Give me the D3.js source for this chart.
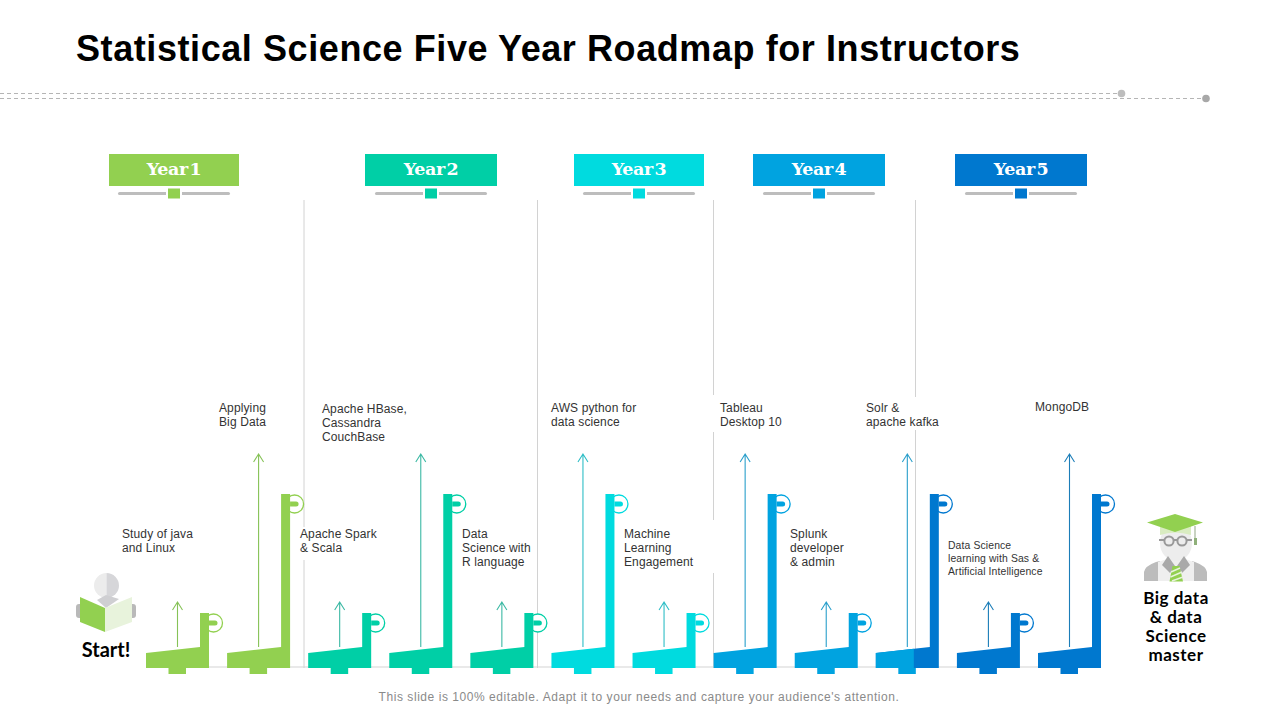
<!DOCTYPE html>
<html><head><meta charset="utf-8">
<script src="https://cdnjs.cloudflare.com/ajax/libs/d3/7.8.5/d3.min.js"></script>
<style>html,body{margin:0;padding:0;background:#fff}svg{display:block}text{font-family:"Liberation Sans",Arial,sans-serif}</style>
</head><body><svg id="c" width="1280" height="720"></svg>
<script>
// ---- data ----
const titleText = "Statistical Science Five Year Roadmap for Instructors";
const footerText = "This slide is 100% editable. Adapt it to your needs and capture your audience's attention.";
const years = ["Year 1","Year 2","Year 3","Year 4","Year 5"];
const stepIndex = [0,1,2,3,4,5,6,7,8,9,10,11];
const poleValues  = [55,174,55,174,55,174,55,174,55,174,55,174];
const arrowValues = [66,214,66,214,66,214,66,214,66,214,66,214];
const stepLabels = [
 ["Study of java","and Linux"],["Applying","Big Data"],
 ["Apache Spark","& Scala"],["Apache HBase,","Cassandra","CouchBase"],
 ["Data","Science with","R language"],["AWS python for","data science"],
 ["Machine","Learning","Engagement"],["Tableau","Desktop 10"],
 ["Splunk","developer","& admin"],["Solr &","apache kafka"],
 ["Data Science","learning with Sas &","Artificial Intelligence"],["MongoDB"]];
const startLabel = "Start!";
const endLabel = ["Big data","& data","Science","master"];

// ---- styles and layout ----
const yearColors = ["#92D050","#00CFA6","#00DBDF","#00A3E0","#0078CF"];
const baseYear = [0,0,1,1,1,2,2,3,3,3,4,4];
const poleYear = [0,0,1,1,1,2,2,3,3,4,4,4];
const arrowColors = ["#86C257","#3CB9A4","#2FBEC6","#2A9FCB","#1B7DB8"];
const headerBox = [[109,239],[365,497],[574,704],[753,885],[955,1087]];
const separators = [[304,[[200,527],[560,668]]],[537.5,[[200,668]]],[713.5,[[200,395],[432,520],[573,668]]],[915.5,[[200,397],[430,668]]]];
const labelX = [122,219,300,322,462,551,624,720,790,866,948,1035];
const labelY = [534,408,534,409,534,408,534,408,534,408,545,407];
const labelGap = [14,14,14,14,14,14,14,14,14,14,13,14];
const labelSize = [12,12,12,12,12,12,12,12,12,12,10.4,12];

const svg = d3.select("#c");
const x = d3.scaleLinear().domain([0,11]).range([146,1038]);
const y = d3.scaleLinear().domain([0,214]).range([668,454]);
const W = 63, POLE = 9, SLOPE_L = 15, SLOPE_R = 21, ARROW_DX = 31.5;

// title
svg.append("text").attr("x",76).attr("y",61).attr("font-size",36).attr("font-weight",700).attr("fill","#000").attr("letter-spacing",0.58).text(titleText);
// dashed rules
const rule = svg.append("g").attr("stroke","#b5b5b5").attr("stroke-width",1).attr("stroke-dasharray","4 3");
rule.append("line").attr("x1",0).attr("x2",1121).attr("y1",93.5).attr("y2",93.5);
rule.append("line").attr("x1",0).attr("x2",1206).attr("y1",98.5).attr("y2",98.5);
svg.append("circle").attr("cx",1121.5).attr("cy",93.5).attr("r",3.8).attr("fill","#bdbdbd");
svg.append("circle").attr("cx",1206).attr("cy",98.5).attr("r",3.8).attr("fill","#a8a8a8");

// baseline
svg.append("line").attr("x1",146).attr("x2",1100).attr("y1",667).attr("y2",667).attr("stroke","#e2e2e2").attr("stroke-width",1.5);

// separators
separators.forEach(([sx,segs])=>segs.forEach(([a,b])=>svg.append("line").attr("x1",sx).attr("x2",sx).attr("y1",a).attr("y2",b).attr("stroke","#d2d2d2").attr("stroke-width",1)));

// year headers
years.forEach((t,i)=>{
  const [a,b]=headerBox[i], m=(a+b)/2, g=svg.append("g");
  g.append("rect").attr("x",a).attr("y",154).attr("width",b-a).attr("height",32).attr("fill",yearColors[i]);
  g.append("text").attr("x",m).attr("y",175).attr("text-anchor","middle").attr("fill","#fff").attr("font-weight",700)
    .attr("font-size",17.5).style("font-family","'DejaVu Serif',serif").attr("letter-spacing",-0.4).style("word-spacing","-4px").text(t);
  g.append("rect").attr("x",m-56).attr("y",192).attr("width",112).attr("height",3).attr("rx",1.5).attr("fill","#bdbdbd");
  g.append("rect").attr("x",m-8).attr("y",187).attr("width",16).attr("height",12).attr("fill","#fff");
  g.append("rect").attr("x",m-6).attr("y",188.5).attr("width",12).attr("height",10).attr("fill",yearColors[i]);
});

// steps
const base0 = y(0);
const shape = (L,top)=>`M${L},${base0}V${base0-SLOPE_L}L${L+W-POLE},${base0-SLOPE_R}V${top}H${L+W}V${base0}Z`;
const steps = svg.selectAll("g.step").data(stepIndex).join("g").attr("class","step");
steps.each(function(i){
  const g=d3.select(this), L=x(i), top=y(poleValues[i]), right=L+W;
  const cb=yearColors[baseYear[i]], cp=yearColors[poleYear[i]], ca=arrowColors[baseYear[i]];
  // ring
  g.append("circle").attr("cx",right+4.5).attr("cy",top+10).attr("r",9).attr("fill","#fff").attr("stroke",cp).attr("stroke-width",1.3);
  g.append("path").attr("d",shape(L,top)).attr("fill",cp);
  g.append("path").attr("d",`M${right},${top+7.5}h6a2.5,2.5 0 0 1 0,5h-6z`).attr("fill",cp);
  if(cb!==cp){
    const cut=38, t=base0-SLOPE_L-(SLOPE_R-SLOPE_L)*cut/(W-POLE);
    g.append("path").attr("d",`M${L},${base0}V${base0-SLOPE_L}L${L+cut},${t}V${base0}Z`).attr("fill",cb);
  }
  g.append("rect").attr("x",L+22.5).attr("y",base0).attr("width",17.5).attr("height",6).attr("fill",cb);
  // arrow
  const ax=L+ARROW_DX, ay=y(arrowValues[i]);
  g.append("path").attr("d",`M${ax},${y(21)}V${ay}M${ax-5},${ay+8}L${ax},${ay}L${ax+5},${ay+8}`).attr("fill","none").attr("stroke",ca).attr("stroke-width",1.1);
  // label
  const tx=g.append("text").attr("font-size",labelSize[i]).attr("fill","#333").attr("letter-spacing",0.12);
  stepLabels[i].forEach((s,k)=>tx.append("tspan").attr("x",labelX[i]).attr("y",labelY[i]+k*labelGap[i]+4).text(s));
});

// reader icon
const r=svg.append("g");
r.append("path").attr("d","M106.5,573a12.5,12.5 0 0 0 0,25z").attr("fill","#ececec");
r.append("path").attr("d","M106.5,573a12.5,12.5 0 0 1 0,25z").attr("fill","#d6d6d9");
r.append("path").attr("d","M97,600L106,595L119,599L106,608Z").attr("fill","#cfcfd2");
r.append("rect").attr("x",76).attr("y",604).attr("width",7).attr("height",14).attr("rx",3).attr("fill","#b9b9b9");
r.append("rect").attr("x",129).attr("y",604).attr("width",7).attr("height",14).attr("rx",3).attr("fill","#b9b9b9");
r.append("path").attr("d","M80,597L105,608V632L80,622Z").attr("fill","#92D050");
r.append("path").attr("d","M105,608L132,597V622L105,632Z").attr("fill","#E8F3DC");
svg.append("text").attr("x",106).attr("y",657).attr("text-anchor","middle").attr("font-size",20).attr("font-weight",700).style("font-family","Lato,sans-serif").attr("fill","#000").text(startLabel);

// graduate icon
const q=svg.append("g");
q.append("path").attr("d","M1144,581V572Q1145,566 1156,562L1160,561V581ZM1207,581V572Q1206,566 1195,562L1192,561V581Z").attr("fill","#bcbcbc");
q.append("path").attr("d","M1158,581V562L1176,556L1194,562V581Z").attr("fill","#efefef");
q.append("ellipse").attr("cx",1176).attr("cy",543).attr("rx",16).attr("ry",18).attr("fill","#ededed");
q.append("path").attr("d","M1162,565L1168,556L1175,566L1170,573ZM1190,565L1184,556L1177,566L1182,573Z").attr("fill","#a9a9a9");
q.append("path").attr("d","M1172.5,566H1179.5L1183,581.5H1169.5Z").attr("fill","#92D050");
q.append("path").attr("d","M1171,572L1180,568M1170.5,577L1182,572M1172,581L1183,577").attr("stroke","#E8F3DC").attr("stroke-width",1.4);
q.append("path").attr("d","M1160,526L1191,526V535Q1175,530 1160,535Z").attr("fill","#d9ecc1");
q.append("path").attr("d","M1175,514L1203,522.5L1175,532L1147,522.5Z").attr("fill","#92D050");
q.append("path").attr("d","M1195,526V540").attr("stroke","#b7c4ae").attr("stroke-width",1.5);
q.append("rect").attr("x",1194).attr("y",538).attr("width",3).attr("height",7).attr("fill","#8fb07a");
q.append("path").attr("d","M1159,540H1164M1174,540H1177M1187,540H1192").attr("stroke","#999").attr("stroke-width",1.8);
q.append("circle").attr("cx",1169).attr("cy",541).attr("r",4.6).attr("fill","none").attr("stroke","#999").attr("stroke-width",2);
q.append("circle").attr("cx",1182).attr("cy",541).attr("r",4.6).attr("fill","none").attr("stroke","#999").attr("stroke-width",2);
endLabel.forEach((s,k)=>svg.append("text").attr("x",1176).attr("y",604+k*19).attr("text-anchor","middle").attr("font-size",17).attr("letter-spacing",0.5).attr("font-weight",700).style("font-family","Lato,sans-serif").attr("fill","#000").text(s));

// footer
svg.append("text").attr("x",639).attr("y",701).attr("text-anchor","middle").attr("font-size",12).attr("letter-spacing",0.55).attr("fill","#8a8a8a").text(footerText);
</script></body></html>
